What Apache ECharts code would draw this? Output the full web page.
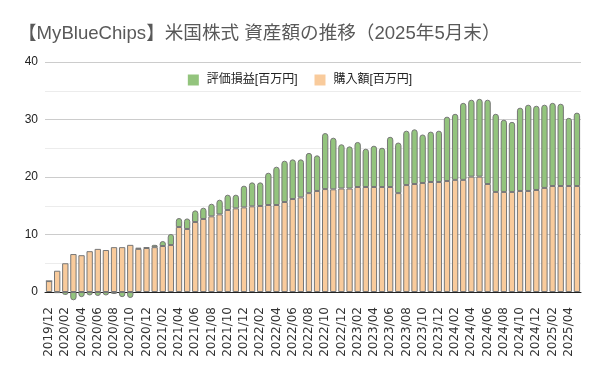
<!DOCTYPE html>
<html><head><meta charset="utf-8">
<script src="https://cdn.jsdelivr.net/npm/echarts@6/dist/echarts.min.js"></script>
<style>html,body{margin:0;padding:0;background:#fff}#c{width:600px;height:371px}</style>
</head><body><div id="c"></div>
<script>
const titleText = '【MyBlueChips】米国株式 資産額の推移（2025年5月末）';
const seriesNames = ['評価損益[百万円]', '購入額[百万円]'];
const months = [
 '2019/12',
 '2020/01','2020/02','2020/03','2020/04','2020/05','2020/06','2020/07','2020/08','2020/09','2020/10','2020/11','2020/12',
 '2021/01','2021/02','2021/03','2021/04','2021/05','2021/06','2021/07','2021/08','2021/09','2021/10','2021/11','2021/12',
 '2022/01','2022/02','2022/03','2022/04','2022/05','2022/06','2022/07','2022/08','2022/09','2022/10','2022/11','2022/12',
 '2023/01','2023/02','2023/03','2023/04','2023/05','2023/06','2023/07','2023/08','2023/09','2023/10','2023/11','2023/12',
 '2024/01','2024/02','2024/03','2024/04','2024/05','2024/06','2024/07','2024/08','2024/09','2024/10','2024/11','2024/12',
 '2025/01','2025/02','2025/03','2025/04','2025/05'
];
const purchase = [
 1.9,
 3.7,5.0,6.6,6.4,7.1,7.5,7.3,7.8,7.8,8.2,7.5,7.65,
 7.8,8.0,8.17,11.3,10.96,12.17,12.7,13.16,13.5,14.26,14.55,14.72,
 14.9,14.96,15.13,15.13,15.65,16.17,16.46,17.2,17.57,17.9,17.86,18.0,
 18.0,18.26,18.26,18.26,18.26,18.26,17.2,18.6,18.78,18.96,19.13,19.13,
 19.3,19.5,19.5,20.06,20.06,18.78,17.4,17.4,17.4,17.57,17.57,17.74,
 18.1,18.43,18.43,18.43,18.43
];
const gain = [
 0,
 -0.2,-0.5,-1.45,-0.9,-0.6,-0.7,-0.6,-0.35,-0.9,-1.05,0.2,0.15,
 0.4,0.87,1.93,1.57,1.84,2.03,1.97,2.2,2.56,2.67,2.38,3.78,
 4.17,4.11,5.62,6.67,7.19,6.9,6.61,7.0,6.2,9.75,8.98,7.7,
 7.33,7.84,6.67,7.19,6.84,8.74,8.8,9.46,9.52,8.44,8.77,8.93,
 11.2,11.5,13.4,13.39,13.54,14.67,13.6,12.57,12.2,14.49,15.01,14.66,
 14.48,14.47,14.32,11.87,12.77
];
const yTicks = {min: 0, max: 40, interval: 10};

const chart = echarts.init(document.getElementById('c'), null, {renderer: 'canvas'});
const gainData = gain.map(v => ({
  value: v,
  itemStyle: {borderRadius: v < 0 ? [0, 0, 3, 3] : [3, 3, 0, 0]}
}));
chart.setOption({
  animation: false,
  title: {
    text: titleText, left: 13, top: 20,
    textStyle: {fontFamily: '"Liberation Sans", "Noto Sans CJK JP", sans-serif', fontSize: 18.6, fontWeight: 'normal', color: '#595959'}
  },
  legend: {
    data: [seriesNames[0], seriesNames[1]],
    top: 69, left: 'center',
    itemWidth: 11, itemHeight: 11, itemGap: 17,
    icon: 'rect',
    itemStyle: {borderWidth: 0},
    textStyle: {fontFamily: '"Liberation Sans", "Noto Sans CJK JP", sans-serif', fontSize: 12, color: '#222', padding: [0, 0, 0, 3]}
  },
  grid: {left: 45, right: 19, top: 62, bottom: 79, containLabel: false},
  xAxis: {
    type: 'category', data: months,
    axisLine: {show: true, lineStyle: {color: '#222'}},
    axisTick: {show: false},
    axisLabel: {rotate: 90, interval: 1, fontSize: 12, color: '#333', fontFamily: '"DejaVu Sans", sans-serif', margin: 15}
  },
  yAxis: {
    type: 'value', min: yTicks.min, max: yTicks.max, interval: yTicks.interval,
    axisLine: {show: false}, axisTick: {show: false},
    axisLabel: {fontSize: 12, color: '#222', fontFamily: '"Liberation Sans", sans-serif', margin: 7},
    splitLine: {lineStyle: {color: '#cccccc'}},
    minorTick: {show: false, splitNumber: 2},
    minorSplitLine: {show: true, lineStyle: {color: '#ececec'}}
  },
  series: [
    {
      name: seriesNames[1], type: 'bar', stack: 'total', data: purchase,
      barCategoryGap: '22%', clip: false,
      itemStyle: {color: '#f9cb9c', borderColor: '#777', borderWidth: 1}
    },
    {
      name: seriesNames[0], type: 'bar', stack: 'total', data: gainData,
      clip: false,
      itemStyle: {color: '#93c47d', borderColor: '#777', borderWidth: 1}
    }
  ]
});
</script></body></html>
